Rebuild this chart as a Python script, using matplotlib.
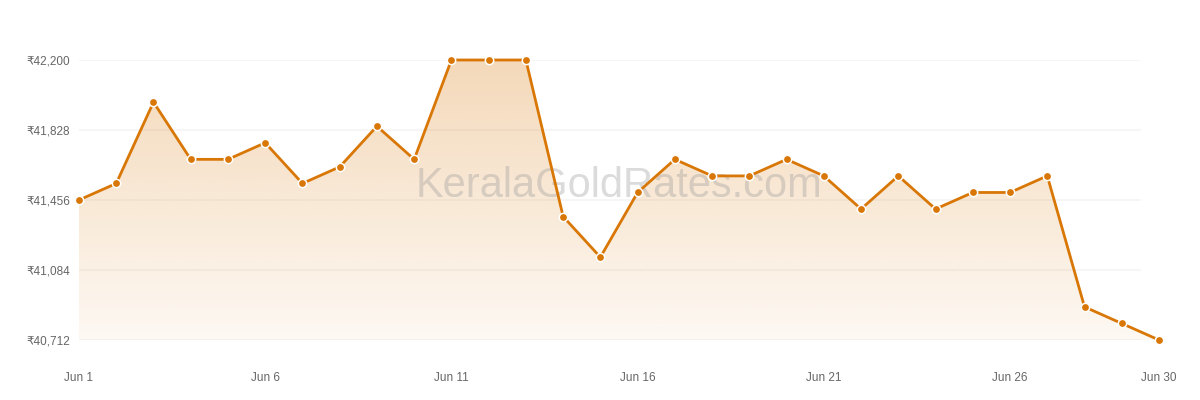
import matplotlib
matplotlib.use("Agg")
import matplotlib.pyplot as plt
from matplotlib.colors import to_rgb
import numpy as np

# Kerala gold rate (8 g), June
days = list(range(1, 31))
prices = [41456, 41544, 41976, 41672, 41672, 41760, 41544, 41632, 41848, 41672,
          42200, 42200, 42200, 41368, 41152, 41496, 41672, 41584, 41584, 41672,
          41584, 41408, 41584, 41408, 41496, 41496, 41584, 40888, 40800, 40712]
y_ticks = [40712, 41084, 41456, 41828, 42200]
x_ticks = [1, 6, 11, 16, 21, 26, 30]
x_labels = ["Jun 1", "Jun 6", "Jun 11", "Jun 16", "Jun 21", "Jun 26", "Jun 30"]

line_col = "#d97706"
fonts = ["Liberation Sans", "DejaVu Sans"]

fig = plt.figure(figsize=(12, 4), dpi=100)
ax = fig.add_axes([79 / 1200, 60 / 400, 1080 / 1200, 280 / 400])
ax.set_xlim(1, 30)
ax.set_ylim(40712, 42200)

# gridlines stop a bit short of the last point
for v in y_ticks:
    ax.axhline(v, xmin=0, xmax=0.982, color="#f5f5f5", lw=1.2, zorder=0)

# gradient fill under the line
r, g, b = to_rgb(line_col)
grad = np.zeros((256, 1, 4))
grad[:, 0, 0], grad[:, 0, 1], grad[:, 0, 2] = r, g, b
grad[:, 0, 3] = np.linspace(0.05, 0.28, 256)
img = ax.imshow(grad, extent=[1, 30, 40712, 42200], origin="lower",
                aspect="auto", zorder=1)
poly = ax.fill_between(days, prices, 40712, color="none", lw=0)
img.set_clip_path(poly.get_paths()[0], ax.transData)

ax.plot(days, prices, color=line_col, lw=2.0, zorder=3, clip_on=False,
        marker="o", markersize=6, markerfacecolor=line_col,
        markeredgecolor="white", markeredgewidth=1.1)

ax.text(0.5, 0.55, "KeralaGoldRates.com", transform=ax.transAxes,
        ha="center", va="center", fontsize=30, color="#999999", alpha=0.35,
        family=fonts, zorder=2)

ax.set_yticks(y_ticks)
ax.set_yticklabels([f"₹{v:,}" for v in y_ticks])
ax.set_xticks(x_ticks)
ax.set_xticklabels(x_labels)
for lab in ax.get_xticklabels() + ax.get_yticklabels():
    lab.set_family(fonts)
    lab.set_fontsize(8.5)
    lab.set_color("#666666")
ax.tick_params(axis="y", length=0, pad=6.5)
ax.tick_params(axis="x", length=0, pad=23)
for s in ax.spines.values():
    s.set_visible(False)

fig.savefig("out.png", dpi=100)
